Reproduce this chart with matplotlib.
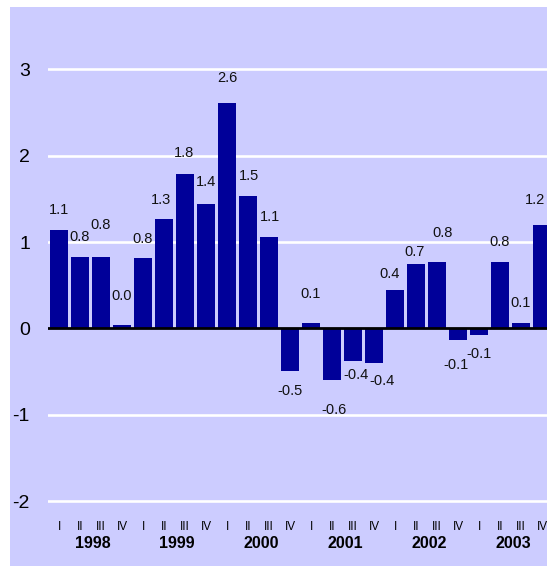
import matplotlib
matplotlib.use("Agg")
import matplotlib.pyplot as plt
from matplotlib.patches import Rectangle

plt.rcParams["font.family"] = ["Liberation Sans", "DejaVu Sans"]

# Quarterly change, 1998 Q1 - 2003 Q4
years = ["1998", "1999", "2000", "2001", "2002", "2003"]
quarters = ["I", "II", "III", "IV"]
values = [1.14, 0.83, 0.83, 0.04,
          0.82, 1.27, 1.79, 1.44,
          2.61, 1.53, 1.06, -0.49,
          0.06, -0.59, -0.38, -0.40,
          0.44, 0.74, 0.77, -0.13,
          -0.075, 0.77, 0.067, 1.20]
y_ticks = [-2, -1, 0, 1, 2, 3]

# label nudges (pixels): horizontal shift, distance from bar end
label_dx = [0, 0, 0, 0, 0, -3, -1, 0, 0, 1, 1, 0,
            0, 2, 3, 8, -5, -1, 6, -2, 0, 0, 0, -7]
label_gap = [20, 20, 32, 29, 19, 19, 21, 22, 25, 20, 20, 20,
             29, 30, 14, 18, 16, 12, 29, 25, 19, 20, 20, 25]

W, H = 547, 567
fig = plt.figure(figsize=(W / 100, H / 100), dpi=100)
fig.patch.set_facecolor("white")

# lavender panel behind the axes
panel = Rectangle((10 / W, 1 - 566 / H), (W - 10) / W, (566 - 7) / H,
                  transform=fig.transFigure, facecolor="#CCCCFF",
                  edgecolor="none", zorder=-10)
fig.patches.append(panel)

ylo, yhi = -2.05, 3.05
ax = fig.add_axes([48 / W, 1 - 505.8 / H, 499 / W, (505.8 - 64.7) / H])
ax.set_facecolor("none")
ax.set_xlim(-0.524, 23.238)
ax.set_ylim(ylo, yhi)

for s in ax.spines.values():
    s.set_visible(False)

for t in y_ticks:
    if t != 0:
        ax.axhline(t, color="white", lw=1.9, zorder=1)

x = list(range(len(values)))
ax.bar(x, values, width=0.857, color="#000099", zorder=2)
ax.axhline(0, color="black", lw=2, zorder=3)

for i, v in enumerate(values):
    sign = 1 if v >= 0 else -1
    ax.annotate(f"{v:.1f}", xy=(i, v), xytext=(label_dx[i], sign * label_gap[i]),
                textcoords="offset pixels", ha="center", va="center",
                fontsize=10.5, color="#111111", annotation_clip=False)

ax.set_yticks(y_ticks)
ax.set_yticklabels([str(t) for t in y_ticks], fontsize=14)
ax.tick_params(axis="y", length=0, pad=13)
ax.set_xticks([])

# quarter and year labels under the axis
trans = ax.get_xaxis_transform()
pos = ax.get_position()
y_q = (1 - 527 / H - pos.y0) / pos.height
y_y = (1 - 544 / H - pos.y0) / pos.height
for i in x:
    ax.text(i, y_q, quarters[i % 4], transform=trans, ha="center", va="center",
            fontsize=8.5, clip_on=False)
for k, yr in enumerate(years):
    ax.text(4 * k + 1.5 + 0.12, y_y, yr, transform=trans, ha="center", va="center",
            fontsize=11.5, fontweight="bold", clip_on=False)

fig.savefig("out.png", dpi=100)
